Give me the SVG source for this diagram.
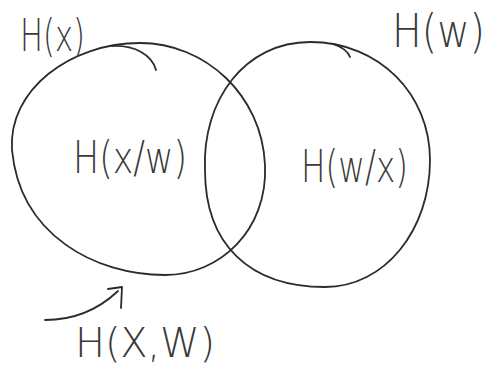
<svg xmlns="http://www.w3.org/2000/svg" width="491" height="373" viewBox="0 0 491 373">
<style>
.ln{fill:none;stroke:#2b2b2b;stroke-width:1.8;stroke-linecap:round;stroke-linejoin:round}
.lb{font-family:"DejaVu Sans","Liberation Sans",sans-serif;font-weight:200;fill:#3a3a3a}
</style>
<rect width="491" height="373" fill="#ffffff"/>
<g id="set-x">
<path class="ln" d="M140,43 C205,43 262,95 265,165 C268,230 220,275 165,275 C95,275 20,235 12,150 C8,90 70,43 140,43 Z"/>
<path class="ln" d="M112,46 C135,45 152,55 156,70"/>
<text class="lb" x="20" y="51" font-size="44" textLength="65" lengthAdjust="spacingAndGlyphs">H(x)</text>
</g>
<g id="set-w">
<path class="ln" d="M310,42 C380,42 430,95 430,160 C430,230 385,287 325,287 C250,287 205,245 205,170 C202,100 245,42 310,42 Z"/>
<path class="ln" d="M333,44 C342,47 348,51 350,57"/>
<text class="lb" transform="translate(392,47) scale(1,1.15)" x="0" y="0" font-size="40" textLength="93" lengthAdjust="spacingAndGlyphs">H(w)</text>
</g>
<g id="cond-x-given-w">
<text class="lb" x="73" y="173" font-size="44" textLength="114" lengthAdjust="spacingAndGlyphs">H(x/w)</text>
</g>
<g id="cond-w-given-x">
<text class="lb" x="301" y="182" font-size="44" textLength="107" lengthAdjust="spacingAndGlyphs">H(w/x)</text>
</g>
<g id="joint">
<text class="lb" x="75" y="357" font-size="40" textLength="140" lengthAdjust="spacing">H(X,W)</text>
</g>
<g id="connectors">
<path class="ln" d="M45,320 C75,320 100,308 118,291"/>
<path class="ln" d="M108,289 L122,287 L121,308"/>
</g>
</svg>
